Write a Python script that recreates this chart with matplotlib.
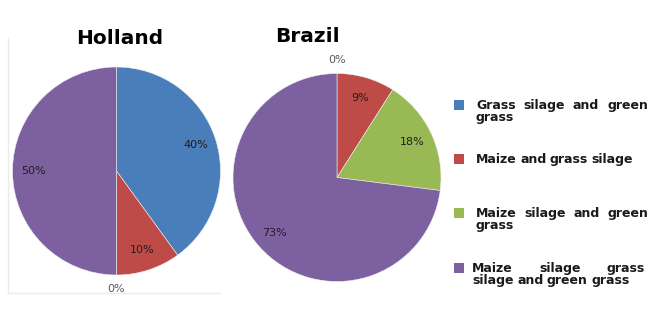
import matplotlib
matplotlib.use("Agg")
import matplotlib.pyplot as plt
from matplotlib.lines import Line2D
from matplotlib.patches import Rectangle

categories = ["Grass silage and green grass", "Maize and grass silage",
              "Maize silage and green grass",
              "Maize silage grass silage and green grass"]
colors = ["#4A7EBB", "#BE4B48", "#98B954", "#7D60A0"]
countries = ["Holland", "Brazil"]
holland = [40, 10, 0, 50]
brazil = [0, 9, 18, 73]

# legend text wrapped as in the original (justified lines)
legend_lines = [["Grass silage and green", "grass"],
                ["Maize and grass silage"],
                ["Maize silage and green", "grass"],
                ["Maize silage grass", "silage and green grass"]]

W, H = 661, 309
fig = plt.figure(figsize=(W / 100, H / 100), dpi=100)
renderer = fig.canvas.get_renderer()


def px(x, y):
    return x / W, 1 - y / H


def draw_pie(cx, cy, r, values, title, tx, ty):
    ax = fig.add_axes([(cx - r) / W, (H - cy - r) / H, 2 * r / W, 2 * r / H])
    wedges, texts, autotexts = ax.pie(
        values, colors=colors, startangle=90, counterclock=False,
        autopct=lambda p: f"{p:.0f}%", pctdistance=0.8,
        wedgeprops=dict(edgecolor="#f0f0f0", linewidth=0.4),
        textprops=dict(fontsize=8, color="#1e1e1e"))
    for v, t in zip(values, autotexts):
        if v == 0:
            x, y = t.get_position()
            t.set_position((x / 0.8 * 1.13, y / 0.8 * 1.13))
            t.set_color("#5a5a5a")
    ax.set_xlim(-1, 1)
    ax.set_ylim(-1, 1)
    fig.text(*px(tx, ty), title, ha="center", va="center",
             fontsize=14.5, fontweight="bold", color="black")


draw_pie(116.5, 171, 104, holland, countries[0], 120, 39)
draw_pie(337, 177.5, 104, brazil, countries[1], 307, 37)

# faint chart frame
fig.add_artist(Line2D([8 / W, 8 / W], [1 - 38 / H, 1 - 293 / H],
                      transform=fig.transFigure, color="#ebebeb", lw=1))
fig.add_artist(Line2D([8 / W, 220 / W], [1 - 293 / H, 1 - 293 / H],
                      transform=fig.transFigure, color="#ebebeb", lw=1))


def justified(words, x0, x1, y, justify):
    arts = [fig.text(0, 0, w, fontsize=9, fontweight="bold",
                     color="#1a1a1a", va="baseline", ha="left") for w in words]
    widths = [a.get_window_extent(renderer).width for a in arts]
    if justify and len(words) > 1:
        gap = (x1 - x0 - sum(widths)) / (len(words) - 1)
    else:
        gap = 3.5
    x = x0
    for a, w in zip(arts, widths):
        a.set_position(px(x, y + 4))
        x += w + gap


entry_y = [105, 159, 213, 268]
text_x = [476, 476, 476, 472]
text_right = [648, 648, 648, 645]
for c, lines, y, x0, x1 in zip(colors, legend_lines, entry_y, text_x, text_right):
    fig.add_artist(Rectangle(px(454, y + 5), 10 / W, 10 / H,
                             transform=fig.transFigure, facecolor=c,
                             edgecolor="none"))
    for i, line in enumerate(lines):
        last = i == len(lines) - 1
        justified(line.split(), x0, x1, y + 12 * i, not last)

fig.savefig("out.png", dpi=100)
